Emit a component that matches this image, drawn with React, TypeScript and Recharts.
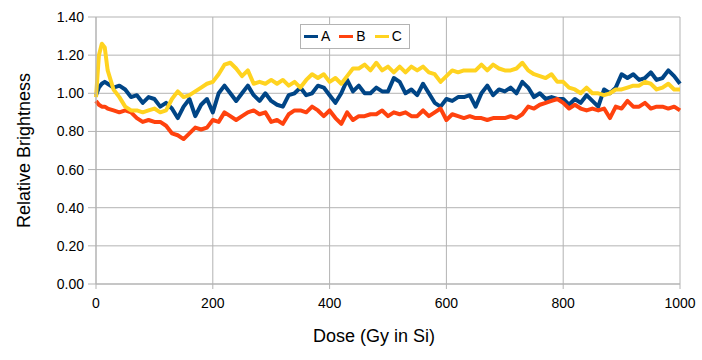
import { CartesianGrid, Label, Legend, Line, LineChart, XAxis, YAxis } from "recharts";

const doses = [
  0, 5, 10, 15, 20, 30, 40, 50, 60, 70, 80, 90, 100, 110, 120, 130, 140, 150, 160, 170, 180, 190, 200,
  210, 220, 230, 240, 250, 260, 270, 280, 290, 300, 310, 320, 330, 340, 350, 360, 370, 380, 390, 400,
  410, 420, 430, 440, 450, 460, 470, 480, 490, 500, 510, 520, 530, 540, 550, 560, 570, 580, 590, 600,
  610, 620, 630, 640, 650, 660, 670, 680, 690, 700, 710, 720, 730, 740, 750, 760, 770, 780, 790, 800,
  810, 820, 830, 840, 850, 860, 870, 880, 890, 900, 910, 920, 930, 940, 950, 960, 970, 980, 990, 1000,
];

const seriesA = [
  0.99, 1.03, 1.05, 1.06, 1.05, 1.03, 1.04, 1.02, 0.98, 0.99, 0.95, 0.98, 0.97, 0.93, 0.95, 0.92, 0.87, 0.93, 0.97, 0.88, 0.94, 0.97, 0.9,
  1.0, 1.04, 1.0, 0.96, 1.0, 1.04, 0.99, 0.96, 1.0, 0.96, 0.94, 0.93, 0.99, 1.0, 1.03, 0.99, 1.0, 1.04, 1.03, 0.99,
  0.95, 1.0, 1.07, 1.01, 1.04, 1.0, 1.0, 1.03, 1.01, 1.01, 1.08, 1.06, 1.0, 1.02, 0.99, 1.05, 1.0, 0.95, 0.93, 0.97,
  0.96, 0.98, 0.98, 0.99, 0.93, 1.0, 1.04, 0.99, 1.02, 1.01, 1.03, 1.0, 1.06, 1.03, 0.98, 1.0, 0.97, 0.98, 0.97, 0.97,
  0.94, 0.97, 0.95, 0.99, 0.96, 0.93, 1.02, 1.0, 1.03, 1.1, 1.08, 1.1, 1.07, 1.08, 1.11, 1.07, 1.08, 1.12, 1.09, 1.05,
];

const seriesB = [
  0.96, 0.94, 0.93, 0.93, 0.92, 0.91, 0.9, 0.91, 0.9, 0.87, 0.85, 0.86, 0.85, 0.85, 0.83, 0.79, 0.78, 0.76, 0.79, 0.82, 0.81, 0.82, 0.86,
  0.85, 0.9, 0.88, 0.86, 0.88, 0.9, 0.91, 0.89, 0.9, 0.85, 0.86, 0.84, 0.89, 0.91, 0.91, 0.9, 0.93, 0.91, 0.88, 0.91,
  0.87, 0.84, 0.9, 0.86, 0.88, 0.88, 0.89, 0.89, 0.91, 0.88, 0.9, 0.89, 0.9, 0.88, 0.88, 0.91, 0.88, 0.9, 0.92, 0.86,
  0.89, 0.88, 0.87, 0.88, 0.87, 0.87, 0.86, 0.87, 0.87, 0.87, 0.88, 0.87, 0.89, 0.93, 0.92, 0.94, 0.95, 0.96, 0.97, 0.95,
  0.92, 0.94, 0.92, 0.91, 0.92, 0.91, 0.92, 0.87, 0.93, 0.92, 0.96, 0.93, 0.93, 0.95, 0.92, 0.93, 0.93, 0.92, 0.93, 0.91,
];

const seriesC = [
  0.98, 1.2, 1.26, 1.24, 1.12, 1.02, 0.98, 0.93, 0.91, 0.91, 0.9, 0.91, 0.92, 0.9, 0.91, 0.97, 1.01, 0.98, 0.99, 1.01, 1.03, 1.05, 1.06,
  1.1, 1.15, 1.16, 1.13, 1.09, 1.12, 1.05, 1.06, 1.05, 1.07, 1.05, 1.07, 1.04, 1.06, 1.03, 1.07, 1.1, 1.08, 1.1, 1.06,
  1.08, 1.05, 1.09, 1.13, 1.13, 1.15, 1.12, 1.16, 1.12, 1.14, 1.11, 1.14, 1.11, 1.14, 1.12, 1.14, 1.11, 1.1, 1.06, 1.09,
  1.12, 1.11, 1.12, 1.12, 1.12, 1.15, 1.12, 1.15, 1.13, 1.12, 1.12, 1.13, 1.16, 1.12, 1.1, 1.09, 1.08, 1.1, 1.06, 1.06,
  1.03, 1.02, 1.0, 1.03, 1.0, 1.0, 0.99, 1.0, 1.02, 1.02, 1.03, 1.04, 1.04, 1.06, 1.05, 1.02, 1.03, 1.05, 1.02, 1.02,
];

const xTicks = [0, 200, 400, 600, 800, 1000];
const yTicks = [0, 0.2, 0.4, 0.6, 0.8, 1.0, 1.2, 1.4];

const seriesInfo = [
  { key: "A", color: "#004586" },
  { key: "B", color: "#ff420e" },
  { key: "C", color: "#ffd320" },
];

const data = doses.map((dose, i) => ({
  dose,
  A: seriesA[i],
  B: seriesB[i],
  C: seriesC[i],
}));

const font = "'Liberation Sans', Arial, sans-serif";
const grey = "#b3b3b3";

function LegendBox() {
  return (
    <div
      style={{
        display: "flex",
        alignItems: "center",
        gap: 9,
        border: `1px solid ${grey}`,
        background: "#fff",
        padding: "3px 7px 3px 3px",
        fontFamily: font,
        fontSize: 14,
        color: "#000",
        lineHeight: "17px",
      }}
    >
      {seriesInfo.map((s) => (
        <span key={s.key} style={{ display: "flex", alignItems: "center", gap: 3 }}>
          <span style={{ display: "inline-block", width: 14, height: 3, background: s.color }} />
          {s.key}
        </span>
      ))}
    </div>
  );
}

export default function App() {
  return (
    <div style={{ position: "absolute", left: 0, top: 0, background: "#fff" }}>
      <LineChart width={702} height={360} data={data} margin={{ top: 17, right: 22, bottom: 0, left: 10 }}>
        <CartesianGrid stroke={grey} vertical={true} horizontal={true} />
        <XAxis
          dataKey="dose"
          type="number"
          domain={[0, 1000]}
          ticks={xTicks}
          height={76}
          stroke={grey}
          tickSize={5}
          tickMargin={9}
          tick={{ fill: "#000", fontSize: 14, fontFamily: font }}
        >
          <Label
            value="Dose (Gy in Si)"
            position="insideBottom"
            offset={18}
            dx={-14}
            style={{ fontSize: 18, fontFamily: font, fill: "#000" }}
          />
        </XAxis>
        <YAxis
          type="number"
          domain={[0, 1.4]}
          ticks={yTicks}
          width={86}
          stroke={grey}
          tickSize={8}
          tickMargin={4}
          tickFormatter={(v: number) => v.toFixed(2)}
          tick={{ fill: "#000", fontSize: 14, fontFamily: font }}
        >
          <Label
            value="Relative Brightness"
            angle={-90}
            position="insideLeft"
            offset={14}
            style={{ fontSize: 18, fontFamily: font, fill: "#000", textAnchor: "middle" }}
          />
        </YAxis>
        <Legend
          layout="vertical"
          align="center"
          verticalAlign="middle"
          content={() => <LegendBox />}
          wrapperStyle={{ left: 300, top: 24, width: "auto" }}
        />
        {seriesInfo.map((s) => (
          <Line
            key={s.key}
            dataKey={s.key}
            type="linear"
            stroke={s.color}
            strokeWidth={4}
            strokeLinejoin="round"
            dot={false}
            activeDot={false}
            isAnimationActive={false}
          />
        ))}
      </LineChart>
    </div>
  );
}
